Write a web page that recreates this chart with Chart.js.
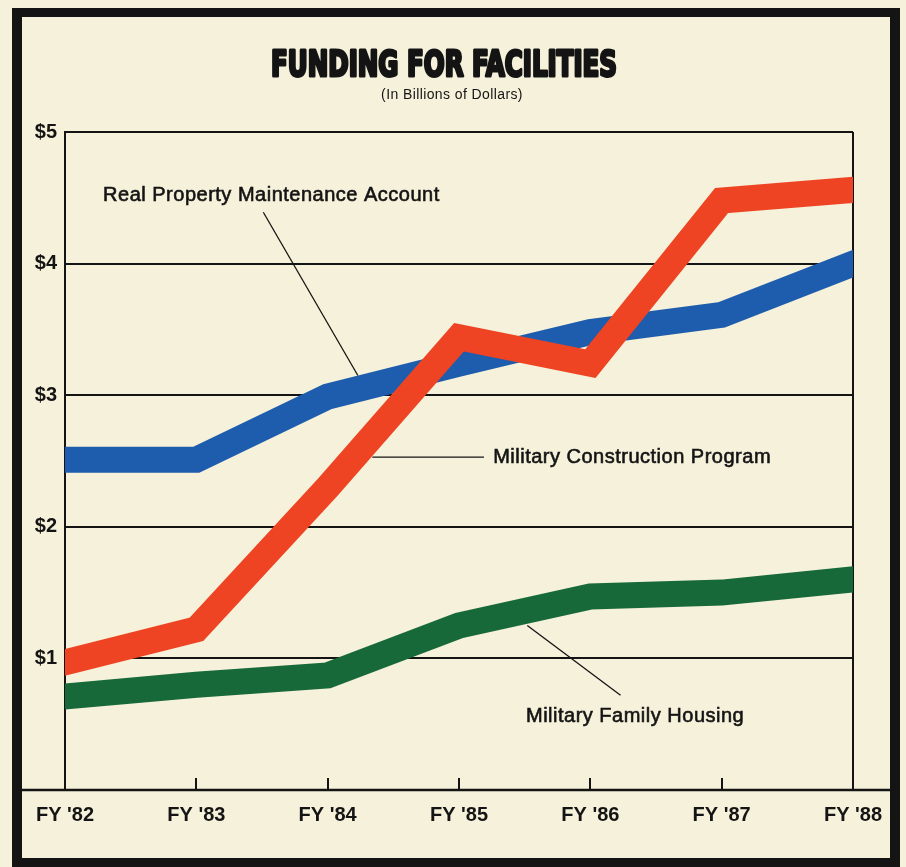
<!DOCTYPE html>
<html lang="en">
<head>
    <meta charset="UTF-8">
    <title>Funding for Facilities</title>
    <script src="https://cdn.jsdelivr.net/npm/chart.js"></script>
    <style>
        html, body { margin:0; padding:0; background:#f6f1da; }
        canvas { display:block; }
    </style>
</head>
<body>

<canvas id="fundingChart" width="906" height="867"></canvas>

<script>
// values in billions of dollars
const years = ["FY '82", "FY '83", "FY '84", "FY '85", "FY '86", "FY '87", "FY '88"];
const construction = [0.97, 1.22, 2.30, 3.44, 3.24, 4.48, 4.56];
const maintenance = [2.51, 2.51, 2.99, 3.24, 3.48, 3.61, 4.00];
const housing = [0.71, 0.80, 0.87, 1.25, 1.47, 1.50, 1.60];
const yTicks = [0, 1, 2, 3, 4, 5];

const cream = '#f6f1da';
const ink = '#141414';

// callout labels: text position + leader line, in axis units (x = year index, y = $bn)
const notes = [
  { text: 'Real Property Maintenance Account', x: 0.29, y: 4.52, from: [1.51, 4.39], to: [2.23, 3.15] },
  { text: 'Military Construction Program', x: 3.26, y: 2.53, from: [2.34, 2.53], to: [3.19, 2.53] },
  { text: 'Military Family Housing', x: 3.51, y: 0.56, from: [3.52, 1.25], to: [4.23, 0.72] }
];

const framePlugin = {
  id: 'frame',
  beforeDraw(chart) {
    const ctx = chart.ctx;
    ctx.save();
    ctx.fillStyle = cream;
    ctx.fillRect(0, 0, chart.width, chart.height);
    // thick black frame
    ctx.fillStyle = ink;
    ctx.fillRect(12, 8, 888, 859);
    ctx.fillStyle = cream;
    ctx.fillRect(22, 17, 868, 841);

    // title
    ctx.fillStyle = ink;
    ctx.strokeStyle = ink;
    ctx.textAlign = 'center';
    ctx.textBaseline = 'alphabetic';
    ctx.font = 'bold 36px "Liberation Sans Narrow", "DejaVu Sans Condensed", sans-serif';
    ctx.lineWidth = 3;
    ctx.lineJoin = 'round';
    ctx.fillText('FUNDING FOR FACILITIES', 444, 76, 346);
    ctx.strokeText('FUNDING FOR FACILITIES', 444, 76, 346);
    ctx.font = '14px "Liberation Sans", Arial, sans-serif';
    ctx.letterSpacing = '0.4px';
    ctx.textBaseline = 'middle';
    ctx.fillText('(In Billions of Dollars)', 452, 95);
    ctx.restore();
  },
  beforeDatasetsDraw(chart) {
    const ctx = chart.ctx;
    const area = chart.chartArea;
    const xs = chart.scales.x;
    ctx.save();
    ctx.strokeStyle = ink;
    // bottom axis runs across the whole frame
    ctx.lineWidth = 2.5;
    ctx.beginPath();
    ctx.moveTo(22, area.bottom);
    ctx.lineTo(890, area.bottom);
    ctx.stroke();
    // short ticks pointing up
    ctx.lineWidth = 2;
    for (let i = 1; i < years.length - 1; i++) {
      const px = Math.round(xs.getPixelForValue(i));
      ctx.beginPath();
      ctx.moveTo(px, area.bottom);
      ctx.lineTo(px, area.bottom - 12);
      ctx.stroke();
    }
    ctx.restore();
  },
  afterDatasetsDraw(chart) {
    const ctx = chart.ctx;
    const xs = chart.scales.x, ys = chart.scales.y;
    ctx.save();
    ctx.strokeStyle = ink;
    ctx.fillStyle = ink;
    ctx.lineWidth = 1.3;
    ctx.textAlign = 'left';
    ctx.textBaseline = 'middle';
    notes.forEach(n => {
      ctx.beginPath();
      ctx.moveTo(xs.getPixelForValue(n.from[0]), ys.getPixelForValue(n.from[1]));
      ctx.lineTo(xs.getPixelForValue(n.to[0]), ys.getPixelForValue(n.to[1]));
      ctx.stroke();
    });
    ctx.font = '20px "Liberation Sans", Arial, sans-serif';
    ctx.letterSpacing = '0.5px';
    ctx.lineWidth = 0.6;
    notes.forEach(n => {
      const px = xs.getPixelForValue(n.x), py = ys.getPixelForValue(n.y);
      ctx.fillText(n.text, px, py);
      ctx.strokeText(n.text, px, py);
    });
    ctx.restore();
  }
};

const lineStyle = {
  borderWidth: 26,
  borderJoinStyle: 'miter',
  borderCapStyle: 'square',
  pointRadius: 0,
  tension: 0,
  fill: false,
  clip: 0
};

const config = {
  type: 'line',
  data: {
    labels: years,
    datasets: [
      Object.assign({ label: 'Military Construction Program', data: construction, borderColor: '#ee4424', backgroundColor: '#ee4424', order: 0 }, lineStyle),
      Object.assign({ label: 'Real Property Maintenance Account', data: maintenance, borderColor: '#1e5dad', backgroundColor: '#1e5dad', order: 1 }, lineStyle),
      Object.assign({ label: 'Military Family Housing', data: housing, borderColor: '#17693a', backgroundColor: '#17693a', order: 2 }, lineStyle)
    ]
  },
  options: {
    responsive: false,
    animation: false,
    devicePixelRatio: 1,
    layout: { padding: { top: 132, right: 53, left: 0, bottom: 0 } },
    plugins: {
      legend: { display: false },
      title: { display: false },
      tooltip: { enabled: false }
    },
    scales: {
      x: {
        type: 'category',
        offset: false,
        afterFit: function(scale) { scale.height = 77; },
        grid: {
          drawTicks: false,
          tickLength: 0,
          lineWidth: 2,
          color: ctx => (ctx.index === 0 || ctx.index === years.length - 1) ? ink : 'rgba(0,0,0,0)'
        },
        border: { display: false },
        ticks: {
          padding: 13,
          maxRotation: 0,
          autoSkip: false,
          color: ink,
          font: { family: '"Liberation Sans", Arial, sans-serif', size: 20, weight: 'bold' }
        }
      },
      y: {
        min: 0,
        max: 5,
        afterFit: function(scale) { scale.width = 65; },
        afterBuildTicks: function(scale) { scale.ticks = yTicks.map(v => ({ value: v })); },
        grid: { drawTicks: false, tickLength: 0, lineWidth: 2, color: ink },
        border: { display: true, color: ink, width: 2 },
        ticks: {
          padding: 8,
          color: ink,
          font: { family: '"Liberation Sans", Arial, sans-serif', size: 20, weight: 'bold' },
          callback: v => v === 0 ? '' : '$' + v
        }
      }
    }
  },
  plugins: [framePlugin]
};

var fundingChart = new Chart(document.getElementById('fundingChart'), config);
</script>

</body>
</html>
